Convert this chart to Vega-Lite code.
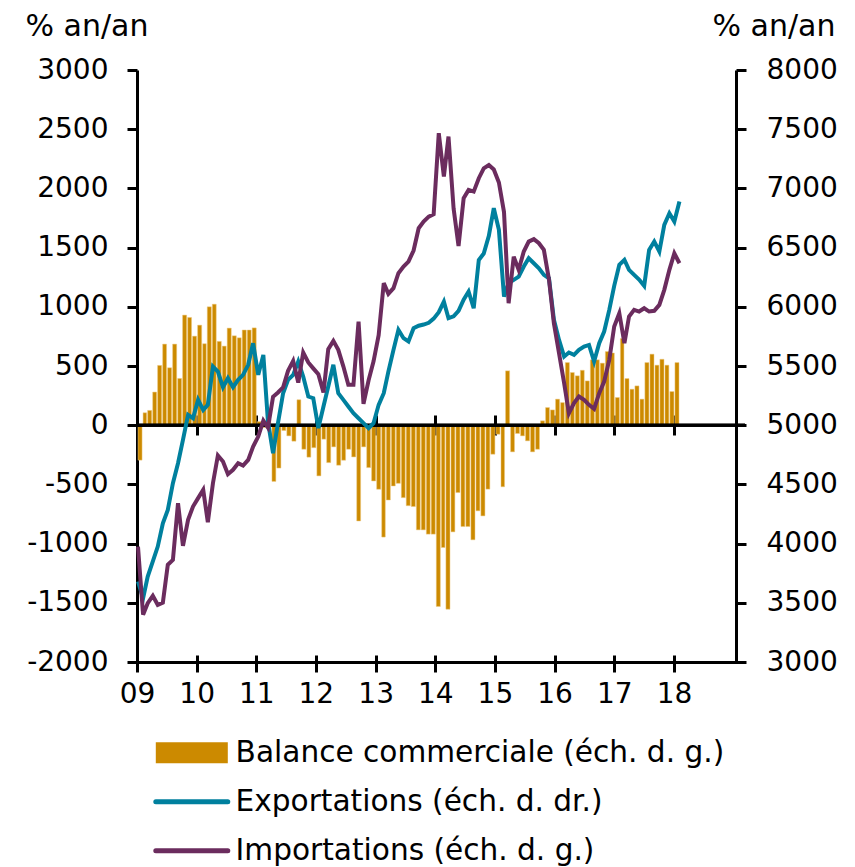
{
  "$schema": "https://vega.github.io/schema/vega-lite/v6.json",
  "width": 608,
  "height": 592,
  "autosize": {"type": "none"},
  "padding": {"left": 137, "top": 70, "right": 110, "bottom": 205},
  "background": "white",
  "config": {
    "view": {"stroke": null},
    "axis": {
      "labelFont": "DejaVu Sans", "labelFontSize": 28, "labelColor": "#000",
      "titleFont": "DejaVu Sans", "titleFontSize": 30, "titleFontWeight": "normal", "titleColor": "#000",
      "domainColor": "#000", "domainWidth": 3, "tickColor": "#000", "tickWidth": 3, "grid": false
    }
  },
  "datasets": {
    "m": [
      {"date": "2009-01-01T00:00", "balance": -295, "exports": 3680, "imports": -1025},
      {"date": "2009-02-01T00:00", "balance": 105, "exports": 3539, "imports": -1600},
      {"date": "2009-03-01T00:00", "balance": 125, "exports": 3722, "imports": -1503},
      {"date": "2009-04-01T00:00", "balance": 280, "exports": 3849, "imports": -1441},
      {"date": "2009-05-01T00:00", "balance": 505, "exports": 3975, "imports": -1517},
      {"date": "2009-06-01T00:00", "balance": 685, "exports": 4172, "imports": -1498},
      {"date": "2009-07-01T00:00", "balance": 485, "exports": 4285, "imports": -1179},
      {"date": "2009-08-01T00:00", "balance": 685, "exports": 4510, "imports": -1137},
      {"date": "2009-09-01T00:00", "balance": 395, "exports": 4679, "imports": -659},
      {"date": "2009-10-01T00:00", "balance": 930, "exports": 4876, "imports": -1019},
      {"date": "2009-11-01T00:00", "balance": 910, "exports": 5087, "imports": -799},
      {"date": "2009-12-01T00:00", "balance": 752, "exports": 5059, "imports": -687},
      {"date": "2010-01-01T00:00", "balance": 845, "exports": 5214, "imports": -616},
      {"date": "2010-02-01T00:00", "balance": 688, "exports": 5129, "imports": -546},
      {"date": "2010-03-01T00:00", "balance": 1000, "exports": 5172, "imports": -819},
      {"date": "2010-04-01T00:00", "balance": 1022, "exports": 5495, "imports": -490},
      {"date": "2010-05-01T00:00", "balance": 708, "exports": 5453, "imports": -256},
      {"date": "2010-06-01T00:00", "balance": 668, "exports": 5321, "imports": -307},
      {"date": "2010-07-01T00:00", "balance": 820, "exports": 5397, "imports": -414},
      {"date": "2010-08-01T00:00", "balance": 755, "exports": 5321, "imports": -377},
      {"date": "2010-09-01T00:00", "balance": 738, "exports": 5383, "imports": -321},
      {"date": "2010-10-01T00:00", "balance": 804, "exports": 5425, "imports": -341},
      {"date": "2010-11-01T00:00", "balance": 804, "exports": 5510, "imports": -293},
      {"date": "2010-12-01T00:00", "balance": 822, "exports": 5692, "imports": -180},
      {"date": "2011-01-01T00:00", "balance": 30, "exports": 5425, "imports": -96},
      {"date": "2011-02-01T00:00", "balance": -20, "exports": 5594, "imports": 39},
      {"date": "2011-03-01T00:00", "balance": 50, "exports": 5031, "imports": -20},
      {"date": "2011-04-01T00:00", "balance": -475, "exports": 4764, "imports": 240},
      {"date": "2011-05-01T00:00", "balance": -362, "exports": 5020, "imports": 276},
      {"date": "2011-06-01T00:00", "balance": -45, "exports": 5270, "imports": 320},
      {"date": "2011-07-01T00:00", "balance": -90, "exports": 5383, "imports": 459},
      {"date": "2011-08-01T00:00", "balance": -135, "exports": 5425, "imports": 543},
      {"date": "2011-09-01T00:00", "balance": 215, "exports": 5538, "imports": 360},
      {"date": "2011-10-01T00:00", "balance": -203, "exports": 5411, "imports": 614},
      {"date": "2011-11-01T00:00", "balance": -270, "exports": 5242, "imports": 530},
      {"date": "2011-12-01T00:00", "balance": -190, "exports": 5228, "imports": 480},
      {"date": "2012-01-01T00:00", "balance": -428, "exports": 4975, "imports": 430},
      {"date": "2012-02-01T00:00", "balance": -118, "exports": 5158, "imports": 276},
      {"date": "2012-03-01T00:00", "balance": -316, "exports": 5327, "imports": 642},
      {"date": "2012-04-01T00:00", "balance": -183, "exports": 5510, "imports": 712},
      {"date": "2012-05-01T00:00", "balance": -338, "exports": 5270, "imports": 636},
      {"date": "2012-06-01T00:00", "balance": -296, "exports": 5214, "imports": 495},
      {"date": "2012-07-01T00:00", "balance": -203, "exports": 5158, "imports": 341},
      {"date": "2012-08-01T00:00", "balance": -268, "exports": 5101, "imports": 341},
      {"date": "2012-09-01T00:00", "balance": -809, "exports": 5059, "imports": 875},
      {"date": "2012-10-01T00:00", "balance": -183, "exports": 5017, "imports": 180},
      {"date": "2012-11-01T00:00", "balance": -358, "exports": 4975, "imports": 380},
      {"date": "2012-12-01T00:00", "balance": -471, "exports": 5017, "imports": 540},
      {"date": "2013-01-01T00:00", "balance": -541, "exports": 5172, "imports": 760},
      {"date": "2013-02-01T00:00", "balance": -945, "exports": 5270, "imports": 1200},
      {"date": "2013-03-01T00:00", "balance": -632, "exports": 5453, "imports": 1109},
      {"date": "2013-04-01T00:00", "balance": -513, "exports": 5636, "imports": 1157},
      {"date": "2013-05-01T00:00", "balance": -491, "exports": 5805, "imports": 1284},
      {"date": "2013-06-01T00:00", "balance": -612, "exports": 5735, "imports": 1340},
      {"date": "2013-07-01T00:00", "balance": -680, "exports": 5707, "imports": 1382},
      {"date": "2013-08-01T00:00", "balance": -687, "exports": 5819, "imports": 1475},
      {"date": "2013-09-01T00:00", "balance": -884, "exports": 5840, "imports": 1664},
      {"date": "2013-10-01T00:00", "balance": -884, "exports": 5850, "imports": 1720},
      {"date": "2013-11-01T00:00", "balance": -920, "exports": 5865, "imports": 1762},
      {"date": "2013-12-01T00:00", "balance": -920, "exports": 5900, "imports": 1782},
      {"date": "2014-01-01T00:00", "balance": -1531, "exports": 5955, "imports": 2466},
      {"date": "2014-02-01T00:00", "balance": -1033, "exports": 6044, "imports": 2100},
      {"date": "2014-03-01T00:00", "balance": -1554, "exports": 5904, "imports": 2438},
      {"date": "2014-04-01T00:00", "balance": -901, "exports": 5920, "imports": 1830},
      {"date": "2014-05-01T00:00", "balance": -569, "exports": 5965, "imports": 1514},
      {"date": "2014-06-01T00:00", "balance": -856, "exports": 6060, "imports": 1917},
      {"date": "2014-07-01T00:00", "balance": -856, "exports": 6129, "imports": 1987},
      {"date": "2014-08-01T00:00", "balance": -968, "exports": 5988, "imports": 1973},
      {"date": "2014-09-01T00:00", "balance": -723, "exports": 6396, "imports": 2086},
      {"date": "2014-10-01T00:00", "balance": -766, "exports": 6450, "imports": 2170},
      {"date": "2014-11-01T00:00", "balance": -540, "exports": 6600, "imports": 2198},
      {"date": "2014-12-01T00:00", "balance": -245, "exports": 6833, "imports": 2160},
      {"date": "2015-01-01T00:00", "balance": -76, "exports": 6650, "imports": 2050},
      {"date": "2015-02-01T00:00", "balance": -520, "exports": 6087, "imports": 1800},
      {"date": "2015-03-01T00:00", "balance": 459, "exports": 6200, "imports": 1030},
      {"date": "2015-04-01T00:00", "balance": -225, "exports": 6227, "imports": 1424},
      {"date": "2015-05-01T00:00", "balance": -70, "exports": 6255, "imports": 1312},
      {"date": "2015-06-01T00:00", "balance": -90, "exports": 6340, "imports": 1467},
      {"date": "2015-07-01T00:00", "balance": -132, "exports": 6410, "imports": 1551},
      {"date": "2015-08-01T00:00", "balance": -225, "exports": 6368, "imports": 1571},
      {"date": "2015-09-01T00:00", "balance": -203, "exports": 6326, "imports": 1537},
      {"date": "2015-10-01T00:00", "balance": 37, "exports": 6270, "imports": 1481},
      {"date": "2015-11-01T00:00", "balance": 149, "exports": 6241, "imports": 1230},
      {"date": "2015-12-01T00:00", "balance": 129, "exports": 5890, "imports": 860},
      {"date": "2016-01-01T00:00", "balance": 220, "exports": 5720, "imports": 608},
      {"date": "2016-02-01T00:00", "balance": 191, "exports": 5580, "imports": 355},
      {"date": "2016-03-01T00:00", "balance": 529, "exports": 5614, "imports": 101},
      {"date": "2016-04-01T00:00", "balance": 445, "exports": 5594, "imports": 186},
      {"date": "2016-05-01T00:00", "balance": 417, "exports": 5636, "imports": 242},
      {"date": "2016-06-01T00:00", "balance": 464, "exports": 5664, "imports": 214},
      {"date": "2016-07-01T00:00", "balance": 374, "exports": 5678, "imports": 172},
      {"date": "2016-08-01T00:00", "balance": 552, "exports": 5538, "imports": 138},
      {"date": "2016-09-01T00:00", "balance": 552, "exports": 5692, "imports": 270},
      {"date": "2016-10-01T00:00", "balance": 524, "exports": 5791, "imports": 369},
      {"date": "2016-11-01T00:00", "balance": 622, "exports": 5974, "imports": 552},
      {"date": "2016-12-01T00:00", "balance": 610, "exports": 6177, "imports": 833},
      {"date": "2017-01-01T00:00", "balance": 234, "exports": 6354, "imports": 946},
      {"date": "2017-02-01T00:00", "balance": 732, "exports": 6396, "imports": 692},
      {"date": "2017-03-01T00:00", "balance": 394, "exports": 6312, "imports": 918},
      {"date": "2017-04-01T00:00", "balance": 304, "exports": 6270, "imports": 974},
      {"date": "2017-05-01T00:00", "balance": 332, "exports": 6230, "imports": 960},
      {"date": "2017-06-01T00:00", "balance": 220, "exports": 6177, "imports": 988},
      {"date": "2017-07-01T00:00", "balance": 529, "exports": 6481, "imports": 960},
      {"date": "2017-08-01T00:00", "balance": 600, "exports": 6551, "imports": 966},
      {"date": "2017-09-01T00:00", "balance": 507, "exports": 6467, "imports": 1016},
      {"date": "2017-10-01T00:00", "balance": 557, "exports": 6692, "imports": 1143},
      {"date": "2017-11-01T00:00", "balance": 507, "exports": 6790, "imports": 1312},
      {"date": "2017-12-01T00:00", "balance": 284, "exports": 6720, "imports": 1452},
      {"date": "2018-01-01T00:00", "balance": 529, "exports": 6889, "imports": 1368}
    ]
  },
  "data": {"name": "m"},
  "layer": [
    {
      "layer": [
        {
          "mark": {"type": "bar", "stroke": "#EFCB85", "strokeWidth": 0.5},
          "encoding": {
            "x": {
              "field": "date", "timeUnit": "yearmonth", "type": "temporal",
              "scale": {"domain": [{"year": 2009, "month": 1, "date": 1}, {"year": 2019, "month": 3, "date": 12}]},
              "axis": {
                "orient": "bottom", "title": null, "format": "%y", "labelFlush": false, "labelOverlap": false,
                "tickSize": 10, "labelPadding": 8,
                "values": [{"year": 2009, "month": 1, "date": 1}, {"year": 2010, "month": 1, "date": 1}, {"year": 2011, "month": 1, "date": 1}, {"year": 2012, "month": 1, "date": 1}, {"year": 2013, "month": 1, "date": 1}, {"year": 2014, "month": 1, "date": 1}, {"year": 2015, "month": 1, "date": 1}, {"year": 2016, "month": 1, "date": 1}, {"year": 2017, "month": 1, "date": 1}, {"year": 2018, "month": 1, "date": 1}]
              }
            },
            "y": {
              "field": "balance", "type": "quantitative",
              "scale": {"domain": [-2000, 3000], "nice": false, "zero": false},
              "axis": {
                "orient": "left", "format": "d", "labelExpr": "replace(datum.label, '−', '-')",
                "tickSize": 10, "labelPadding": 19,
                "values": [-2000, -1500, -1000, -500, 0, 500, 1000, 1500, 2000, 2500, 3000],
                "title": "% an/an", "titleAngle": 0, "titleAlign": "left", "titleBaseline": "alphabetic",
                "titleX": -112, "titleY": -35
              }
            },
            "color": {
              "datum": "Balance commerciale (éch. d. g.)", "type": "nominal",
              "scale": {
                "domain": ["Balance commerciale (éch. d. g.)", "Exportations (éch. d. dr.)", "Importations (éch. d. g.)"],
                "range": ["#CC8A00", "#00809E", "#6B2C5E"]
              },
              "legend": {
                "orient": "none", "legendX": 40, "legendY": 668, "direction": "vertical", "title": null,
                "symbolSize": 400, "labelFont": "DejaVu Sans", "labelFontSize": 29.6, "labelColor": "#000",
                "labelOffset": 29, "rowPadding": 18, "padding": 0, "labelLimit": 0,
                "encoding": {
                  "symbols": {
                    "shape": {"value": {"expr": "datum.value === 'Balance commerciale (éch. d. g.)' ? 'M-3.6,-1.05H3.6V1.05H-3.6Z' : 'M-3.6,0H3.6'"}},
                    "fill": {"value": {"expr": "datum.value === 'Balance commerciale (éch. d. g.)' ? '#CC8A00' : 'transparent'"}},
                    "fillOpacity": {"value": 1},
                    "stroke": {"value": {"expr": "datum.value === 'Balance commerciale (éch. d. g.)' ? 'transparent' : (datum.value === 'Exportations (éch. d. dr.)' ? '#00809E' : '#6B2C5E')"}},
                    "strokeWidth": {"value": {"expr": "datum.value === 'Balance commerciale (éch. d. g.)' ? 0 : 5"}},
                    "strokeCap": {"value": "round"},
                    "opacity": {"value": 1}
                  }
                }
              }
            }
          }
        },
        {
          "data": {"values": [{}]},
          "mark": {"type": "rule", "color": "#000", "strokeWidth": 3},
          "encoding": {
            "x": {
              "datum": {"year": 2009, "month": 1, "date": 1}, "type": "temporal",
              "axis": {
                "orient": "bottom", "offset": -236, "title": null, "labels": false, "domain": false, "tickSize": 9,
                "values": [{"year": 2009, "month": 1, "date": 1}, {"year": 2010, "month": 1, "date": 1}, {"year": 2011, "month": 1, "date": 1}, {"year": 2012, "month": 1, "date": 1}, {"year": 2013, "month": 1, "date": 1}, {"year": 2014, "month": 1, "date": 1}, {"year": 2015, "month": 1, "date": 1}, {"year": 2016, "month": 1, "date": 1}, {"year": 2017, "month": 1, "date": 1}, {"year": 2018, "month": 1, "date": 1}]
              }
            },
            "x2": {"datum": {"year": 2019, "month": 3, "date": 12}},
            "y": {"datum": 0, "type": "quantitative"}
          }
        },
        {
          "data": {"values": [{}]},
          "mark": {"type": "rule", "color": "#000", "strokeWidth": 3},
          "encoding": {
            "x": {
              "datum": {"year": 2009, "month": 1, "date": 1}, "type": "temporal",
              "axis": {
                "orient": "top", "offset": -356, "title": null, "labels": false, "domain": false, "tickSize": 11,
                "values": [{"year": 2009, "month": 1, "date": 1}, {"year": 2010, "month": 1, "date": 1}, {"year": 2011, "month": 1, "date": 1}, {"year": 2012, "month": 1, "date": 1}, {"year": 2013, "month": 1, "date": 1}, {"year": 2014, "month": 1, "date": 1}, {"year": 2015, "month": 1, "date": 1}, {"year": 2016, "month": 1, "date": 1}, {"year": 2017, "month": 1, "date": 1}, {"year": 2018, "month": 1, "date": 1}]
              }
            },
            "x2": {"datum": {"year": 2019, "month": 3, "date": 12}},
            "y": {"datum": 0, "type": "quantitative"}
          }
        },
        {
          "data": {"values": [{}]},
          "mark": {"type": "rule", "color": "#000", "strokeWidth": 3},
          "encoding": {
            "x": {
              "datum": {"year": 2009, "month": 1, "date": 1}, "type": "temporal",
              "axis": {
                "orient": "top", "offset": -592, "title": null, "labels": false, "domain": false, "tickSize": 7,
                "values": [{"year": 2009, "month": 1, "date": 1}, {"year": 2010, "month": 1, "date": 1}, {"year": 2011, "month": 1, "date": 1}, {"year": 2012, "month": 1, "date": 1}, {"year": 2013, "month": 1, "date": 1}, {"year": 2014, "month": 1, "date": 1}, {"year": 2015, "month": 1, "date": 1}, {"year": 2016, "month": 1, "date": 1}, {"year": 2017, "month": 1, "date": 1}, {"year": 2018, "month": 1, "date": 1}]
              }
            },
            "x2": {"datum": {"year": 2019, "month": 3, "date": 12}},
            "y": {"datum": 0, "type": "quantitative"}
          }
        }
      ],
      "resolve": {"axis": {"x": "independent"}}
    },
    {
      "layer": [
        {
          "mark": {"type": "line", "strokeWidth": 4},
          "encoding": {
            "x": {
              "field": "date", "timeUnit": "yearmonth", "type": "temporal",
              "scale": {"domain": [{"year": 2008, "month": 12, "date": 26}, {"year": 2019, "month": 2, "date": 3}]},
              "axis": null
            },
            "y": {
              "field": "exports", "type": "quantitative",
              "scale": {"domain": [3000, 8000], "nice": false, "zero": false},
              "axis": {
                "orient": "right", "offset": -9, "format": "d", "tickSize": 10, "labelPadding": 20,
                "values": [3000, 3500, 4000, 4500, 5000, 5500, 6000, 6500, 7000, 7500, 8000],
                "title": "% an/an", "titleAngle": 0, "titleAlign": "left", "titleBaseline": "alphabetic",
                "titleX": -24, "titleY": -35
              }
            },
            "color": {"datum": "Exportations (éch. d. dr.)", "type": "nominal"}
          }
        },
        {
          "mark": {"type": "line", "strokeWidth": 4},
          "encoding": {
            "x": {
              "field": "date", "timeUnit": "yearmonth", "type": "temporal",
              "scale": {"domain": [{"year": 2008, "month": 12, "date": 26}, {"year": 2019, "month": 2, "date": 3}]},
              "axis": null
            },
            "y": {
              "field": "imports", "type": "quantitative",
              "scale": {"domain": [-2000, 3000], "nice": false, "zero": false},
              "axis": null
            },
            "color": {"datum": "Importations (éch. d. g.)", "type": "nominal"}
          }
        }
      ],
      "resolve": {"scale": {"y": "independent"}}
    }
  ],
  "resolve": {"scale": {"x": "independent", "y": "independent"}}
}
